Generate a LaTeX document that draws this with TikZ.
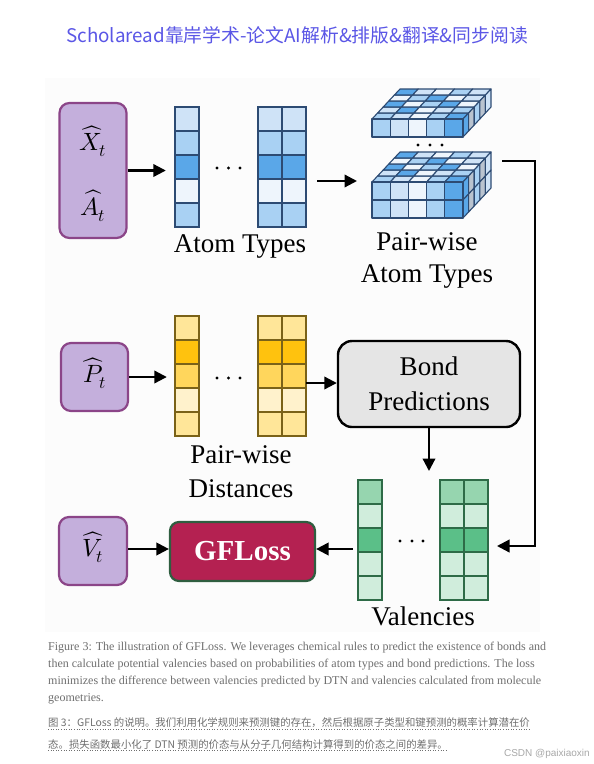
\documentclass[tikz,border=0pt]{standalone}
\usepackage{fontspec}
\usepackage{unicode-math}
\setmainfont{Liberation Serif}
\newfontfamily\cjk{Noto Sans CJK SC}
\newfontfamily\sansf{Liberation Sans}
\usetikzlibrary{arrows.meta}
\definecolor{pfill}{HTML}{C4AFDC}
\definecolor{pborder}{HTML}{8B4588}
\definecolor{atA}{HTML}{CFE3F7}
\definecolor{atB}{HTML}{A9D1F3}
\definecolor{atC}{HTML}{5AA7E8}
\definecolor{atD}{HTML}{EEF5FC}
\definecolor{atE}{HTML}{2D4B73}
\definecolor{sideG}{HTML}{B9C3CF}
\definecolor{yA}{HTML}{FFE699}
\definecolor{yB}{HTML}{FFC20E}
\definecolor{yC}{HTML}{FFD65C}
\definecolor{yD}{HTML}{FFF2CC}
\definecolor{yE}{HTML}{7A6218}
\definecolor{gA}{HTML}{96D5AF}
\definecolor{gB}{HTML}{D0EDDC}
\definecolor{gC}{HTML}{5BBF88}
\definecolor{gE}{HTML}{2E6B47}
\definecolor{bondfill}{HTML}{E5E5E5}
\definecolor{gffill}{HTML}{B42151}
\definecolor{gfborder}{HTML}{2F5E40}
\definecolor{capgray}{HTML}{6F6F6F}
\definecolor{headblue}{HTML}{5A56E6}
\definecolor{panelbg}{HTML}{FCFCFC}
\definecolor{wmgray}{HTML}{A8A8A8}
\newcommand\cubeblock[2]{%
  % #1 = y of front-face top, #2 = number of rows
  \foreach \row [count=\j from 0] in {{atB,atA,atD,atB,atC},{atA,atC,atD,atA,atB},{atC,atD,atB,atC,atD},{atD,atB,atC,atD,atA},{atC,atA,atD,atB,atA}}{
    \foreach \c [count=\i from 0] in \row {
      \filldraw[fill=\c,cubeedge] (372+\i*18.2+\j*5.6,#1-\j*6) -- ++(18.2,0) -- ++(5.6,-6) -- ++(-18.2,0) -- cycle;
    }
  }
  \foreach \k in {1,...,#2}{
    \foreach \c [count=\j from 0] in {atC,sideG,atB,sideG,atA}{
      \filldraw[fill=\c,cubeedge] (463+\j*5.6,#1+\k*18-18-\j*6) -- ++(5.6,-6) -- ++(0,18) -- ++(-5.6,6) -- cycle;
    }
    \foreach \c [count=\i from 0] in {atB,atA,atD,atB,atC}{
      \filldraw[fill=\c,cubeedge] (372+\i*18.2,#1+\k*18-18) rectangle ++(18.2,18);
    }
  }
}
\begin{document}
\begin{tikzpicture}[x=1pt,y=-1pt,
  arr/.style={line width=2.2pt,-{Triangle[length=12.5pt,width=12.5pt]}},
  pbox/.style={draw=pborder,fill=pfill,line width=2.2pt,rounded corners=10pt,inner sep=0pt},
  lbl/.style={font=\fontsize{27}{32}\selectfont,inner sep=0pt,anchor=base},
  mathlbl/.style={font=\fontsize{25}{30}\selectfont,inner sep=0pt},
  cell/.style={line width=1.4pt},
  cubeedge/.style={draw=atE,line width=1.1pt,line join=round},
  grp/.style={inner sep=0pt,draw=none},
  capline/.style={font=\fontsize{12}{14}\selectfont,text=capgray,inner sep=0pt,anchor=base west},
  cjkline/.style={font=\cjk\fontsize{10.4}{12}\selectfont,text=capgray,inner sep=0pt,anchor=base west}]
\useasboundingbox (0,0) rectangle (594,764);
\fill[white] (0,0) rectangle (594,764);
\fill[panelbg] (45,78) rectangle (540,632);

% header
\node[inner sep=0pt,anchor=base,text=headblue,font=\cjk\fontsize{18.8}{20}\selectfont] (head) at (297,42) {Scholaread靠岸学术-论文AI解析\&排版\&翻译\&同步阅读};

% ---- row 1: inputs and atom types
\node[pbox,minimum width=67pt,minimum height=135pt] (xa) at (93,170.5) {};
\node[mathlbl] (xh) at (93,141) {$\widehat{X}_t$};
\node[mathlbl] (ah) at (93,206) {$\widehat{A}_t$};

\foreach \c [count=\k from 0] in {atA,atB,atC,atD,atB}{
  \filldraw[fill=\c,draw=atE,cell] (175,107+24*\k) rectangle ++(24,24);
  \filldraw[fill=\c,draw=atE,cell] (258,107+24*\k) rectangle ++(24,24);
  \filldraw[fill=\c,draw=atE,cell] (282,107+24*\k) rectangle ++(24,24);
}
\node[grp,minimum width=24pt,minimum height=120pt] (at1) at (187,167) {};
\node[grp,minimum width=48pt,minimum height=120pt] (at2) at (282,167) {};
\foreach \x in {217,228.5,240} \fill (\x,168) circle (1.6);
\node[lbl] (atlab) at (240,252) {Atom Types};

\draw[arr,shorten >=9pt] (xa.east) -- (xa.east -| at1.west);

% pair-wise atom types (3D blocks)
\cubeblock{119}{1}
\cubeblock{182}{2}
\foreach \x in {418,430,442} \fill (\x,145) circle (1.6);
\node[grp,minimum width=119pt,minimum height=66pt] (pwb) at (431.5,185) {};
\coordinate (a2s) at (317,181);
\coordinate (a2e) at (357,181);
\draw[arr] (a2s) -- (a2e);
\node[lbl] (pw1) at (427,250) {Pair-wise};
\node[lbl] (pw2) at (427,282) {Atom Types};

% ---- row 2: distances
\node[pbox,minimum width=67pt,minimum height=68pt] (pb) at (94.5,377) {};
\node[mathlbl] (ph) at (94.5,373) {$\widehat{P}_t$};
\foreach \c [count=\k from 0] in {yA,yB,yC,yD,yA}{
  \filldraw[fill=\c,draw=yE,cell] (175,316+24*\k) rectangle ++(24,24);
  \filldraw[fill=\c,draw=yE,cell] (258,316+24*\k) rectangle ++(24,24);
  \filldraw[fill=\c,draw=yE,cell] (282,316+24*\k) rectangle ++(24,24);
}
\node[grp,minimum width=24pt,minimum height=120pt] (yc1) at (187,376) {};
\node[grp,minimum width=48pt,minimum height=120pt] (yc2) at (282,376) {};
\foreach \x in {217,228.5,240} \fill (\x,378) circle (1.6);
\node[lbl] (pd1) at (241,463) {Pair-wise};
\node[lbl] (pd2) at (241,497) {Distances};
\draw[arr,shorten >=8pt] (pb.east) -- (pb.east -| yc1.west);

\node[draw=black,fill=bondfill,line width=2.4pt,rounded corners=14pt,minimum width=182pt,minimum height=86pt,align=center,inner sep=0pt,font=\fontsize{27}{35}\selectfont] (bond) at (429,384) {Bond\\Predictions};
\coordinate (y2s) at (306,383);
\draw[arr] (y2s) -- (y2s -| bond.west);

% ---- row 3: valencies and loss
\foreach \c [count=\k from 0] in {gA,gB,gC,gB,gB}{
  \filldraw[fill=\c,draw=gE,cell] (358,480+24*\k) rectangle ++(24,24);
  \filldraw[fill=\c,draw=gE,cell] (440,480+24*\k) rectangle ++(24,24);
  \filldraw[fill=\c,draw=gE,cell] (464,480+24*\k) rectangle ++(24,24);
}
\node[grp,minimum width=24pt,minimum height=120pt] (gc1) at (370,540) {};
\node[grp,minimum width=48pt,minimum height=120pt] (gc2) at (464,540) {};
\foreach \x in {400,412,423} \fill (\x,541) circle (1.6);
\node[lbl] (vlab) at (423,625) {Valencies};
\coordinate (bondend) at (429,471);
\draw[arr] (bond.south) -- (bondend);

\node[pbox,minimum width=68pt,minimum height=68pt] (vb) at (93,551) {};
\node[mathlbl] (vh) at (93,547) {$\widehat{V}_t$};
\node[draw=gfborder,fill=gffill,line width=2.2pt,rounded corners=9pt,minimum width=145pt,minimum height=59pt,inner sep=0pt,text=white,font=\bfseries\fontsize{29}{32}\selectfont] (gf) at (242.5,551.5) {GFLoss};
\draw[arr] (vb.east |- 0,549) -- (gf.west |- 0,549);
\coordinate (g1s) at (353,549);
\draw[arr] (g1s) -- (g1s -| gf.east);

% feedback connector from pair-wise atom types to valencies
\coordinate (fbs) at (502,161);
\coordinate (fbc1) at (535,161);
\coordinate (fbc2) at (535,546);
\coordinate (fbe) at (497,546);
\draw[arr] (fbs) -- (fbc1) -- (fbc2) -- (fbe);

% ---- captions
\node[capline] (c1) at (48,650) {Figure 3: The illustration of GFLoss. We leverages chemical rules to predict the existence of bonds and};
\node[capline] (c2) at (48,667) {then calculate potential valencies based on probabilities of atom types and bond predictions. The loss};
\node[capline] (c3) at (48,684) {minimizes the difference between valencies predicted by DTN and valencies calculated from molecule};
\node[capline] (c4) at (48,701) {geometries.};

\node[cjkline] (z1) at (48,726) {图 3：GFLoss 的说明。我们利用化学规则来预测键的存在，然后根据原子类型和键预测的概率计算潜在价};
\node[cjkline] (z2) at (48,748) {态。损失函数最小化了 DTN 预测的价态与从分子几何结构计算得到的价态之间的差异。};
\draw[capgray,dotted,line width=0.6pt] ([yshift=-1.5pt]z1.south west) -- ([yshift=-1.5pt]z1.south east);
\draw[capgray,dotted,line width=0.6pt] ([yshift=-1.5pt]z2.south west) -- ([yshift=-1.5pt]z2.south east);
\node[inner sep=0pt,anchor=base east,text=wmgray,font=\sansf\fontsize{10}{12}\selectfont] (wm) at (590,756) {CSDN @paixiaoxin};
\end{tikzpicture}
\end{document}
